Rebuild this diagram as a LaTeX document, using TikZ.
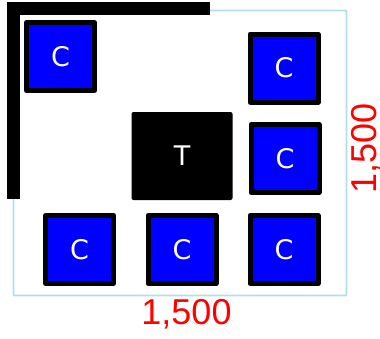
\documentclass[tikz,border=0pt]{standalone}
\usepackage{fontspec}
\setmainfont{DejaVu Sans}
\newfontfamily\dimfont{Liberation Sans}
\definecolor{roomline}{RGB}{176,224,230}
\tikzset{
    chairbox/.style={draw=black, line width=5pt, line join=round, fill=blue, text=white,
        minimum size=68pt, inner sep=0pt, font={\fontsize{27pt}{27pt}\selectfont}},
    tablebox/.style={fill=black, text=white, rounded corners=2pt, minimum width=101pt,
        minimum height=88pt, inner sep=0pt, font={\fontsize{27pt}{27pt}\selectfont}},
    dimlabel/.style={text=red, inner sep=0pt, font={\dimfont\fontsize{36pt}{36pt}\selectfont}}
}
\begin{document}
\begin{tikzpicture}[x=1pt, y=-1pt]
    \useasboundingbox (0,0) rectangle (380,338);

    % Room
    \draw[roomline, line width=1.8pt, rounded corners=1pt] (13.5,10.5) rectangle (346.5,295.5);
    % Walls
    \fill[black] (7,2) rectangle (20,199);
    \fill[black] (7,2) rectangle (210,15);
    % Table
    \node[tablebox] (table) at (182,156) {T};
    % Chairs
    \node[chairbox] (chairA) at (60.5,56.5) {C};
    \node[chairbox] (chairB) at (284,68) {C};
    \node[chairbox] (chairC) at (285,158.5) {C};
    \node[chairbox] (chairD) at (79.5,249.5) {C};
    \node[chairbox] (chairE) at (182,249.5) {C};
    \node[chairbox] (chairF) at (284,249.5) {C};
    % Dimensions
    \node[dimlabel] (width) at (186.5,314) {1,500};
    \node[dimlabel, rotate=90] (depth) at (366,148.5) {1,500};

\end{tikzpicture}
\end{document}
